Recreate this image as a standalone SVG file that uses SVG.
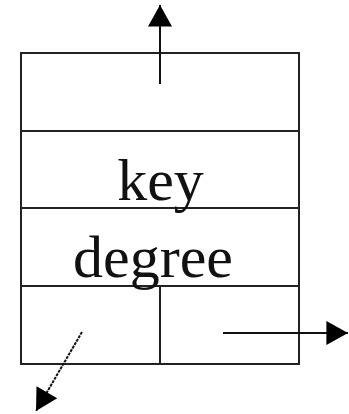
<svg xmlns="http://www.w3.org/2000/svg" width="349" height="414" viewBox="0 0 349 414">
<style>
.ln{stroke:#222;stroke-width:2;fill:none}
.t{font-family:"Liberation Serif","Times New Roman",serif;font-size:60px;fill:#111;text-anchor:middle}
.ar{stroke:#111;stroke-width:2;fill:none}
</style>
<defs>
<marker id="ah" viewBox="0 0 10 10" refX="10" refY="5" markerWidth="11" markerHeight="11" markerUnits="userSpaceOnUse" orient="auto">
<path d="M0,0 L10,5 L0,10 z" fill="#000"/>
</marker>
<marker id="ahb" viewBox="0 0 10 10" refX="10" refY="5" markerWidth="24" markerHeight="24" markerUnits="userSpaceOnUse" orient="auto">
<path d="M1,0 L10,5 L1,10 z" fill="#000"/>
</marker>
</defs>
<g id="node">
<rect class="ln" x="21" y="53" width="278" height="311"/>
<line class="ln" x1="21" y1="131" x2="299" y2="131"/>
<line class="ln" x1="21" y1="208" x2="299" y2="208"/>
<line class="ln" x1="21" y1="286" x2="299" y2="286"/>
<line class="ln" x1="160" y1="286" x2="160" y2="364"/>
<text class="t" x="160.5" y="200">key</text>
<text class="t" x="153" y="277">degree</text>
</g>
<g id="connectors">
<line class="ar" x1="160" y1="84" x2="160" y2="5" marker-end="url(#ahb)"/>
<line class="ar" x1="223" y1="333" x2="348" y2="333" marker-end="url(#ahb)"/>
<line class="ar" x1="82" y1="332" x2="36" y2="411" stroke-dasharray="3,1" marker-end="url(#ahb)"/>
</g>
</svg>
